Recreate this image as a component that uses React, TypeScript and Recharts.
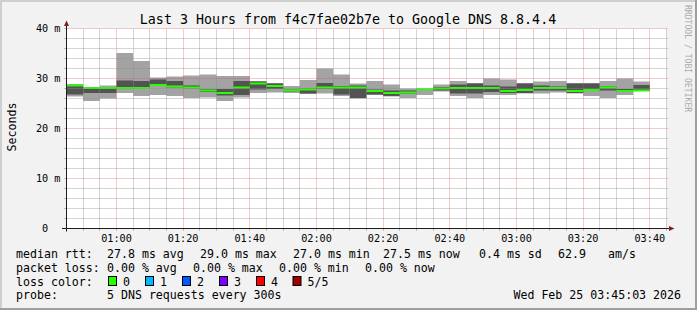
import React from 'react';
import { ComposedChart, Area, XAxis, YAxis, CartesianGrid, ReferenceLine } from 'recharts';

// time axis in minutes after midnight, one smoke step every 5 minutes
const START_MIN = 45;
const END_MIN = 225;
const STEP_MIN = 5;

// sorted pings (5 DNS requests) per step, in ms
const pingMax =    [28.9, 28.3, 28.6, 35.1, 33.5, 30.2, 30.4, 30.6, 30.8, 30.5, 30.5, 29.5, 29.1, 28.5, 29.7, 32.0, 30.8, 29.0, 29.5, 28.8, 28.0, 28.0, 28.8, 29.5, 29.1, 30.0, 29.8, 29.1, 29.4, 29.5, 29.1, 29.1, 29.5, 30.0, 29.4];
const pingUpper =  [28.7, 28.2, 28.2, 29.6, 29.5, 29.8, 29.5, 28.6, 27.9, 27.9, 29.5, 29.4, 29.0, 27.8, 28.0, 29.1, 28.5, 28.6, 27.8, 27.6, 27.6, 27.9, 28.3, 28.8, 29.0, 28.6, 28.4, 29.0, 28.6, 28.4, 29.0, 29.0, 28.4, 27.9, 28.7];
const pingMedian = [28.6, 28.1, 28.1, 28.1, 28.1, 28.7, 28.4, 28.2, 27.6, 27.1, 28.2, 29.0, 28.5, 27.6, 27.8, 28.2, 28.2, 28.2, 27.5, 27.1, 27.2, 27.8, 28.0, 28.1, 28.1, 28.1, 27.5, 27.7, 28.1, 28.1, 27.5, 27.7, 28.2, 27.5, 27.6];
const pingLower =  [26.8, 27.1, 27.1, 27.9, 28.0, 28.6, 28.2, 28.0, 27.3, 26.6, 26.7, 27.8, 27.9, 27.4, 27.0, 27.9, 26.8, 26.1, 26.8, 26.5, 27.0, 27.7, 27.6, 27.0, 27.0, 27.3, 27.1, 27.1, 27.6, 27.6, 27.1, 27.5, 27.6, 27.4, 27.6];
const pingMin =    [26.4, 25.5, 26.0, 27.1, 26.5, 26.7, 26.5, 26.1, 26.2, 25.5, 26.2, 27.1, 27.2, 27.1, 26.9, 27.0, 26.5, 26.0, 26.7, 26.4, 26.1, 26.7, 27.4, 26.5, 26.1, 26.7, 26.7, 27.0, 27.0, 27.2, 27.0, 26.5, 26.1, 26.7, 27.5];

const majorTimeTicks = [60, 80, 100, 120, 140, 160, 180, 200, 220];
const yMajorTicks = [10, 20, 30, 40];

const title = 'Last 3 Hours from f4c7fae02b7e to Google DNS 8.8.4.4';
const rttLegend = ['median rtt:', '27.8 ms avg', '29.0 ms max', '27.0 ms min', '27.5 ms now', '0.4 ms sd', '62.9', 'am/s'];
const lossLegend = ['packet loss:', '0.00 % avg', '0.00 % max', '0.00 % min', '0.00 % now'];
const lossLabels = ['0', '1', '2', '3', '4', '5/5'];
const probeText = '5 DNS requests every 300s';
const stampText = 'Wed Feb 25 03:45:03 2026';

// layout
const rttX = [16, 107, 200, 293, 383, 479, 558, 608];
const lossX = [16, 107, 193, 279, 365];
const lossBoxX = [108.5, 145.5, 182.5, 219.5, 256.5, 293];
const lossColors = ['#26ff00', '#00b8ff', '#0059ff', '#7e00ff', '#ff0000', '#a10000'];

const MONO = "'DejaVu Sans Mono', monospace";
const GRID = 'rgba(143,143,143,0.75)';
const MGRID = 'rgba(222,79,79,0.6)';
const MEDIAN_HALF = 0.22;

const minorTimeTicks: number[] = [];
for (let t = START_MIN + STEP_MIN; t <= END_MIN; t += STEP_MIN) if (t % 20 !== 0) minorTimeTicks.push(t);
const allTimeTicks: number[] = [];
for (let t = START_MIN + STEP_MIN; t <= END_MIN; t += STEP_MIN) allTimeTicks.push(t);
const yMinorTicks: number[] = [];
for (let v = 2; v < 40; v += 2) if (v % 10 !== 0) yMinorTicks.push(v);
const yAllTicks: number[] = [];
for (let v = 0; v <= 40; v += 2) yAllTicks.push(v);

const table = pingMedian.map((m, i) => ({
  t: START_MIN + i * STEP_MIN,
  smoke: [pingMin[i], pingMax[i]],
  core: [pingLower[i], pingUpper[i]],
  med: [m - MEDIAN_HALF, m + MEDIAN_HALF],
}));
// close the last step
table.push({ ...table[table.length - 1], t: START_MIN + pingMedian.length * STEP_MIN });

const hhmm = (t: number) =>
  `${String(Math.floor(t / 60)).padStart(2, '0')}:${String(t % 60).padStart(2, '0')}`;

// rrdtool style dotted grid line, snapped to the pixel grid
const dotted = (color: string) => (p: any) => {
  const x1 = Math.floor(p.x1) + 0.5;
  const x2 = Math.floor(p.x2) + 0.5;
  const y1 = Math.floor(p.y1) + 0.5;
  const y2 = Math.floor(p.y2) + 0.5;
  const vertical = Math.abs(p.x1 - p.x2) < 0.01;
  return (
    <line
      x1={vertical ? x1 : p.x1}
      x2={vertical ? x2 : p.x2 + 2}
      y1={vertical ? p.y1 : y1}
      y2={vertical ? p.y2 : y2}
      stroke={color}
      strokeWidth={1}
      strokeDasharray="1 1"
    />
  );
};

const TimeTick = (props: any) => {
  const { x, y, payload } = props;
  const major = payload.value % 20 === 0;
  const px = Math.floor(x) + 0.5;
  return (
    <g>
      <line x1={px} x2={px} y1={y} y2={y + 2} stroke={major ? MGRID : GRID} />
      {major && (
        <text x={x} y={y + 13.5} textAnchor="middle" fontFamily={MONO} fontSize={10.2} fill="#000">
          {hhmm(payload.value)}
        </text>
      )}
    </g>
  );
};

const SecondsTick = (props: any) => {
  const { x, y, payload } = props;
  const v = payload.value;
  const major = v % 10 === 0;
  return (
    <g>
      <line x1={x - 2} x2={x} y1={y} y2={y} stroke={major ? MGRID : GRID} />
      {major && (
        <text x={x - 6} y={y + 3.6} textAnchor="end" fontFamily={MONO} fontSize={10.2} fill="#000">
          {v === 0 ? '0\u00a0\u00a0' : `${v} m`}
        </text>
      )}
    </g>
  );
};

export default function App() {
  const txt = { fontFamily: MONO, fontSize: 11.6, fill: '#000' } as const;
  return (
    <div style={{ position: 'absolute', left: 0, top: 0, width: 697, height: 310, background: '#f2f2f2' }}>
      <ComposedChart
        width={697}
        height={310}
        data={table}
        margin={{ top: 28.5, right: 30.5, bottom: 51.5, left: 6.5 }}
      >
        <CartesianGrid horizontal={false} vertical={false} fill="#ffffff" stroke="none" />
        <XAxis
          type="number"
          dataKey="t"
          domain={[START_MIN, END_MIN]}
          ticks={allTimeTicks}
          interval={0}
          height={30}
          axisLine={false}
          tickLine={false}
          tickSize={0}
          tickMargin={0}
          tick={<TimeTick />}
          allowDataOverflow
        />
        <YAxis
          type="number"
          domain={[0, 40]}
          ticks={yAllTicks}
          interval={0}
          width={60}
          axisLine={false}
          tickLine={false}
          tickSize={0}
          tickMargin={0}
          tick={<SecondsTick />}
          allowDataOverflow
        />
        <Area dataKey="smoke" type="stepAfter" fill="#a3a3a3" fillOpacity={1} stroke="none" isAnimationActive={false} dot={false} activeDot={false} />
        <Area dataKey="core" type="stepAfter" fill="#535353" fillOpacity={1} stroke="none" isAnimationActive={false} dot={false} activeDot={false} />
        <Area dataKey="med" type="stepAfter" fill="#26ff00" fillOpacity={1} stroke="none" isAnimationActive={false} dot={false} activeDot={false} />
        {yMinorTicks.map((v) => (
          <ReferenceLine key={`hy${v}`} y={v} shape={dotted(GRID)} />
        ))}
        {minorTimeTicks.map((t) => (
          <ReferenceLine key={`vx${t}`} x={t} shape={dotted(GRID)} />
        ))}
        {yMajorTicks.map((v) => (
          <ReferenceLine key={`my${v}`} y={v} shape={dotted(MGRID)} />
        ))}
        {majorTimeTicks.map((t) => (
          <ReferenceLine key={`mx${t}`} x={t} shape={dotted(MGRID)} />
        ))}
      </ComposedChart>

      <svg width={697} height={310} style={{ position: 'absolute', left: 0, top: 0, pointerEvents: 'none' }}>
        {/* frame */}
        <rect x={0} y={0} width={697} height={2} fill="#cfcfcf" />
        <rect x={0} y={0} width={2} height={310} fill="#cfcfcf" />
        <rect x={695} y={0} width={2} height={310} fill="#9e9e9e" />
        <rect x={0} y={308} width={697} height={2} fill="#9e9e9e" />

        <text x={348} y={24} textAnchor="middle" fontFamily={MONO} fontSize={13.3} fill="#000">{title}</text>
        <text transform="translate(15.5,127) rotate(-90)" textAnchor="middle" {...txt}>Seconds</text>
        <text transform="translate(685,5) rotate(90)" fontFamily={MONO} fontSize={8.1} fill="#ababab">RRDTOOL / TOBI OETIKER</text>

        {/* axes with arrows */}
        <line x1={66.5} x2={66.5} y1={231.5} y2={23} stroke="#1f1f1f" />
        <line x1={62} x2={670} y1={228.5} y2={228.5} stroke="#1f1f1f" />
        <polygon points="64,26 69,26 66.5,20.5" fill="#801f1f" />
        <polygon points="669,226 669,231 674.5,228.5" fill="#801f1f" />

        {rttLegend.map((s, i) => (
          <text key={`r${i}`} x={rttX[i]} y={257.7} {...txt}>{s}</text>
        ))}
        {lossLegend.map((s, i) => (
          <text key={`l${i}`} x={lossX[i]} y={271.7} {...txt}>{s}</text>
        ))}
        <text x={16} y={285.5} {...txt}>loss color:</text>
        {lossLabels.map((s, i) => (
          <g key={`c${i}`}>
            <rect x={lossBoxX[i]} y={276.5} width={8} height={9} fill={lossColors[i]} stroke="#000" />
            <text x={lossBoxX[i] + 14.5} y={285.5} {...txt}>{s}</text>
          </g>
        ))}
        <text x={16} y={299.3} {...txt}>probe:</text>
        <text x={107} y={299.3} {...txt}>{probeText}</text>
        <text x={681} y={299.3} textAnchor="end" {...txt}>{stampText}</text>
      </svg>
    </div>
  );
}
